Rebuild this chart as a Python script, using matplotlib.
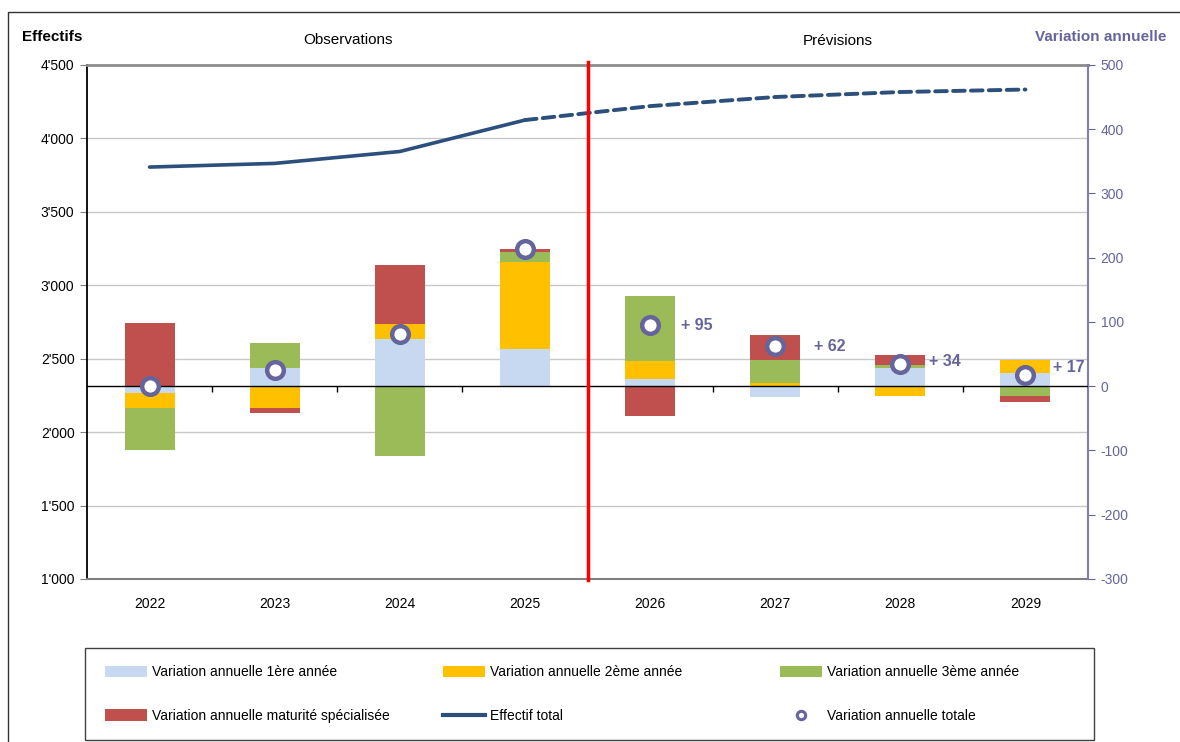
import matplotlib
matplotlib.use("Agg")
import matplotlib.pyplot as plt
import numpy as np
from matplotlib.lines import Line2D
from matplotlib.patches import Rectangle, Patch
from matplotlib.ticker import FuncFormatter

plt.rcParams['font.family'] = ['Liberation Sans', 'DejaVu Sans']
plt.rcParams['axes.unicode_minus'] = False

# donnees
years = ["2022", "2023", "2024", "2025", "2026", "2027", "2028", "2029"]
var_1ere = [-11, 29, 74, 58, 12, -17, 28, 20]
var_2eme = [-23, -34, 23, 135, 28, 5, -15, 21]
var_3eme = [-65, 38, -108, 16, 101, 36, 5, -15]
var_maturite = [99, -8, 92, 5, -46, 38, 16, -9]
var_totale = [0, 25, 81, 214, 95, 62, 34, 17]
effectif_total = [3805, 3830, 3911, 4125, 4220, 4282, 4316, 4333]
n_observations = 4  # 2022-2025 observed, the rest forecast

PURPLE = "#65659C"
NAVY = "#2C4F7C"

series = [
    ("Variation annuelle 1ère année", var_1ere, "#C6D9F1"),
    ("Variation annuelle 2ème année", var_2eme, "#FFC000"),
    ("Variation annuelle 3ème année", var_3eme, "#9BBB59"),
    ("Variation annuelle maturité spécialisée", var_maturite, "#C0504D"),
]

fig = plt.figure(figsize=(11.8, 7.42), dpi=100)
ax = fig.add_axes([87 / 1180, 1 - 579 / 742, 1001 / 1180, 514 / 742])
ax2 = ax.twinx()

x = np.arange(len(years))

# effectif total (left axis)
k = n_observations
ax.plot(x[:k], effectif_total[:k], color=NAVY, lw=2.6, solid_capstyle="round")
ax.plot(x[k - 1:], effectif_total[k - 1:], color=NAVY, lw=2.8,
        linestyle=(0, (3, 1.6)), dash_capstyle="round")
ax.set_ylim(1000, 4500)
ax.set_xlim(-0.5, len(years) - 0.5)
ax.set_yticks(np.arange(1000, 4501, 500))
ax.yaxis.set_major_formatter(FuncFormatter(lambda v, p: f"{int(v):,}".replace(",", "'")))
for yv in np.arange(1500, 4500, 500):
    ax.axhline(yv, color="#C8C8C8", lw=1, zorder=0)
ax.set_xticks(x)
ax.set_xticklabels(years)
ax.tick_params(axis="x", length=0, pad=13, labelsize=10)
ax.tick_params(axis="y", length=5, color="#808080", labelsize=10, pad=4)
ax.spines["left"].set_color("black")
ax.spines["left"].set_linewidth(1.3)
ax.spines["bottom"].set_color("#808080")
ax.spines["bottom"].set_linewidth(1.5)
ax.spines["top"].set_color("#8C8C8C")
ax.spines["top"].set_linewidth(2)
ax.spines["right"].set_visible(False)

# stacked variations (right axis)
pos_bottom = np.zeros(len(years))
neg_bottom = np.zeros(len(years))
handles = []
for label, vals, color in series:
    vals = np.array(vals, dtype=float)
    bottoms = np.where(vals >= 0, pos_bottom, neg_bottom)
    ax2.bar(x, vals, bottom=bottoms, width=0.4, color=color, zorder=2)
    pos_bottom += np.where(vals >= 0, vals, 0)
    neg_bottom += np.where(vals < 0, vals, 0)
    handles.append(Patch(facecolor=color, label=label))

ax2.axhline(0, color="black", lw=1, zorder=3)
ax2.vlines(np.arange(0.5, len(years) - 1, 1), -9, 0, color="black", lw=1, zorder=3)
ax2.plot(x, var_totale, linestyle="none", marker="o", markersize=12,
         markerfacecolor="white", markeredgecolor=PURPLE, markeredgewidth=3.2, zorder=5)

label_offsets = [(0.25, 0), (0.31, 0), (0.23, 5), (0.22, 12)]
for i, (dx, dy) in zip(range(k, len(years)), label_offsets):
    ax2.text(i + dx, var_totale[i] + dy, f"+ {var_totale[i]}", color=PURPLE,
             fontsize=11.5, fontweight="bold", ha="left", va="center", zorder=6)

ax2.set_ylim(-300, 500)
ax2.set_yticks(np.arange(-300, 501, 100))
ax2.tick_params(axis="y", colors=PURPLE, length=5, labelsize=10, pad=4)
ax2.spines["right"].set_color("#7F7FAA")
ax2.spines["right"].set_linewidth(1.5)
for s in ["left", "top", "bottom"]:
    ax2.spines[s].set_visible(False)

# separation observations / previsions
ax2.axvline(k - 0.5, ymin=-0.002, ymax=1.006, color="red", lw=2.5, zorder=7, clip_on=False)

# titles
fig.text(22 / 1180, 1 - 37 / 742, "Effectifs", fontsize=11, fontweight="bold", ha="left", va="center")
fig.text(1166 / 1180, 1 - 37 / 742, "Variation annuelle", fontsize=11, fontweight="bold",
         color=PURPLE, ha="right", va="center")
fig.text(348 / 1180, 1 - 40 / 742, "Observations", fontsize=11, ha="center", va="center")
fig.text(838 / 1180, 1 - 41 / 742, "Prévisions", fontsize=11, ha="center", va="center")

# legend: three columns, one legend each, inside a common frame
h_line = Line2D([], [], color=NAVY, lw=3, label="Effectif total")
h_mark = Line2D([], [], linestyle="none", marker="o", markersize=6, markerfacecolor="white",
                markeredgecolor=PURPLE, markeredgewidth=2.2, label="Variation annuelle totale")
columns = [[handles[0], handles[3]], [handles[1], h_line], [handles[2], h_mark]]
col_x = [105, 443, 780]
for cx, col in zip(col_x, columns):
    leg = fig.legend(handles=col, labels=[h.get_label() for h in col], ncol=1,
                     loc="center left", bbox_to_anchor=(cx / 1180, 1 - 694 / 742),
                     fontsize=10, handlelength=3, handleheight=0.9, handletextpad=0.35,
                     labelspacing=2.15, borderaxespad=0, borderpad=0, frameon=False)
fig.add_artist(Rectangle((85 / 1180, 1 - 740 / 742), 1009 / 1180, 92 / 742,
                         transform=fig.transFigure, fill=False, edgecolor="#404040", lw=1))

# outer frame
fig.add_artist(Rectangle((8 / 1180, -0.1), 1.5, 1.1 - 12 / 742, transform=fig.transFigure,
                         fill=False, edgecolor="#333333", lw=1))

fig.savefig("out.png", dpi=100)
